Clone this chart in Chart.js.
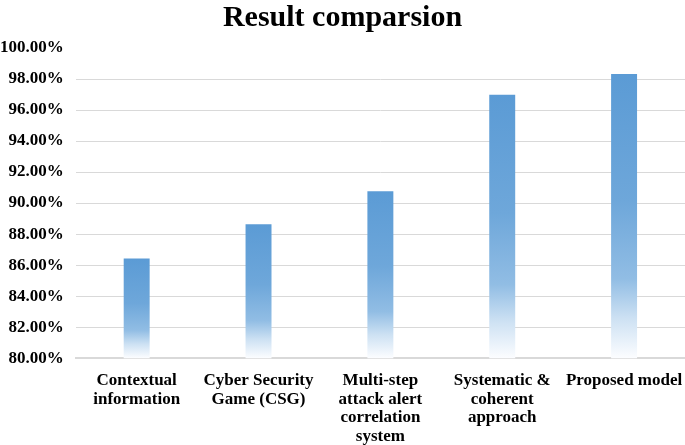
<!DOCTYPE html>
<html>
<head>
<meta charset="utf-8">
<script src="https://cdn.jsdelivr.net/npm/chart.js@4.4.1/dist/chart.umd.min.js"></script>
<style>
  html, body { margin: 0; padding: 0; background: #fff; }
  #wrap { width: 685px; height: 445px; position: relative; }
</style>
</head>
<body>
<div id="wrap"><canvas id="chart"></canvas></div>
<script>
const categories = [
  ['Contextual', 'information'],
  ['Cyber Security', 'Game (CSG)'],
  ['Multi-step', 'attack alert', 'correlation', 'system'],
  ['Systematic &', 'coherent', 'approach'],
  ['Proposed model'],
];
const accuracy = [86.43, 88.64, 90.77, 96.98, 98.32];
const yMin = 80;
const yMax = 100;
const yStep = 2;

const serif = '"Liberation Serif", "Times New Roman", serif';

// vertical fade per bar: solid blue at the top, nearly white at the base
function barFill(ctx) {
  const chart = ctx.chart;
  const area = chart.chartArea;
  if (!area || ctx.parsed == null) return '#5b9bd5';
  const top = chart.scales.y.getPixelForValue(ctx.parsed.y);
  const g = chart.ctx.createLinearGradient(0, top, 0, area.bottom);
  g.addColorStop(0, 'rgb(91,155,213)');
  g.addColorStop(0.45, 'rgb(110,167,218)');
  g.addColorStop(0.72, 'rgb(145,189,228)');
  g.addColorStop(0.86, 'rgb(205,225,243)');
  g.addColorStop(1, 'rgb(252,253,255)');
  return g;
}

new Chart(document.getElementById('chart'), {
  type: 'bar',
  data: {
    labels: categories,
    datasets: [{
      data: accuracy,
      backgroundColor: barFill,
      borderWidth: 0,
      barPercentage: 0.213,
      categoryPercentage: 1,
    }],
  },
  options: {
    responsive: true,
    maintainAspectRatio: false,
    animation: false,
    layout: { padding: { left: 0, right: 0, top: 0, bottom: -14 } },
    plugins: {
      legend: { display: false },
      tooltip: { enabled: false },
      title: {
        display: true,
        text: 'Result comparsion',
        color: '#000',
        font: { family: serif, size: 30, weight: 'bold' },
        padding: { top: 0, bottom: 12 },
      },
    },
    scales: {
      x: {
        grid: { display: false, drawTicks: false },
        border: { display: true, color: '#d9d9d9', width: 2 },
        // labels may hang past the plot edges, like the original
        afterFit: s => { s.paddingLeft = 0; s.paddingRight = 0; },
        ticks: {
          color: '#000',
          font: { family: serif, size: 17, weight: 'bold', lineHeight: 1.1 },
          padding: 13,
          maxRotation: 0,
          autoSkip: false,
        },
      },
      y: {
        min: yMin,
        max: yMax,
        border: { display: false },
        // tick labels sit flush with the left edge
        afterFit: s => { s.width -= 12; },
        grid: {
          drawTicks: false,
          color: c => (c.tick && c.tick.value === yMax) ? 'rgba(0,0,0,0)' : '#d9d9d9',
          lineWidth: 1,
        },
        ticks: {
          stepSize: yStep,
          color: '#000',
          padding: 12,
          font: { family: serif, size: 17, weight: 'bold' },
          callback: v => v.toFixed(2) + '%',
        },
      },
    },
  },
});
</script>
</body>
</html>
